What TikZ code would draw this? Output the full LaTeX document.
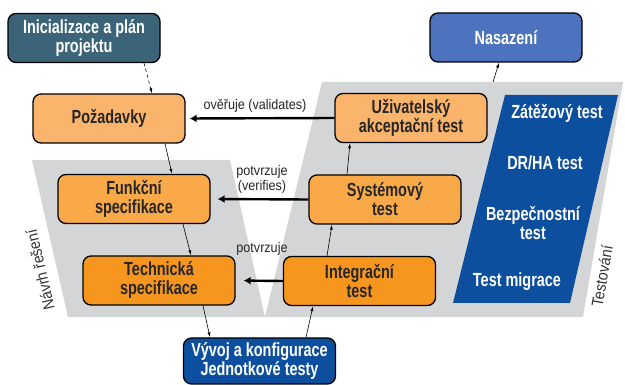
\documentclass[tikz,border=0pt]{standalone}
\usepackage{fontspec}
\setmainfont{Liberation Sans}
\newfontfamily\condfont[FakeStretch=0.76]{Liberation Sans}
\newfontfamily\narrowfont[FakeStretch=0.9]{Liberation Sans}
\usetikzlibrary{arrows.meta}

\definecolor{initcol}{HTML}{3B6478}
\definecolor{lightorange}{HTML}{FBB46C}
\definecolor{midorange}{HTML}{F9A948}
\definecolor{deeporange}{HTML}{F7961E}
\definecolor{nascol}{HTML}{4D73BF}
\definecolor{darkblue}{HTML}{0D4F9F}
\definecolor{vgray}{HTML}{D4D5D7}

\tikzset{
	phase/.style={draw=black, line width=1.3pt, rounded corners=8pt,
		minimum width=152pt, minimum height=49pt, align=center, inner sep=2pt,
		font=\condfont\bfseries\fontsize{19}{19}\selectfont, text=black!85},
	thin arrow/.style={line width=0.6pt, -{Latex[length=5pt,width=3pt]}},
	thick arrow/.style={line width=2.4pt, -{Latex[length=7pt,width=8pt]}},
	arrow label/.style={font=\narrowfont\fontsize{14}{15}\selectfont, align=center, text=black!85},
	test item/.style={font=\condfont\bfseries\fontsize{19}{19}\selectfont, text=white, align=center},
	side label/.style={font=\narrowfont\fontsize{16}{18}\selectfont, text=black!80}
}

\begin{document}
\begin{tikzpicture}[x=1pt,y=-1pt]
	\useasboundingbox (0,0) rectangle (625,385);
	% Pozadi V
	\fill [vgray] (32,160) -- (230,160) -- (265,317) -- (68,317) -- cycle;
	\fill [vgray] (322,82) -- (623,82) -- (583,317) -- (265,317) -- cycle;
	% Testy
	\fill [darkblue] (505,95) -- (618,95) -- (570,303) -- (453,303) -- cycle;
	\node [test item] (zat) at (557,113) {Zátěžový test};
	\node [test item] (drha) at (545,163) {DR/HA test};
	\node [test item] (bezp) at (533,223) {Bezpečnostní\\test};
	\node [test item] (migr) at (517,282) {Test migrace};
	
	% Levá větev
	\node [phase, fill=initcol, text=white] (init) at (84,38) {Inicializace a plán\\projektu};
	\node [phase, fill=lightorange] (poz) at (109,118.5) {Požadavky};
	\node [phase, fill=midorange] (funk) at (134,199) {Funkční\\specifikace};
	\node [phase, fill=deeporange] (tech) at (159,280.5) {Technická\\specifikace};
	% Vyvoj
	\node [phase, fill=darkblue, text=white, minimum height=46pt] (vyvoj) at (259.5,361) {Vývoj a konfigurace\\Jednotkové testy};
	% Pravá větev
	\node [phase, fill=deeporange] (integ) at (359.5,281) {Integrační\\test};
	\node [phase, fill=midorange] (sys) at (385,199.5) {Systémový\\test};
	\node [phase, fill=lightorange] (uziv) at (411,118) {Uživatelský\\akceptační test};
	\node [phase, fill=nascol, text=white] (nas) at (506,37.5) {Nasazení};
	\coordinate (vtop) at (493,82);
	
	% Popisky stran
	\node [side label, rotate=103] (navrh) at (40,270) {Návrh řešení};
	\node [side label, rotate=80] (testov) at (602,276) {Testování};
	
	% Tenke sipky
	\draw [thin arrow, dashed] ([xshift=60pt]init.south) -- ([xshift=43pt]poz.north);
	\draw [thin arrow] ([xshift=56pt]poz.south) -- ([xshift=38pt]funk.north);
	\draw [thin arrow] ([xshift=49pt]funk.south) -- ([xshift=32pt]tech.north);
	\draw [thin arrow] ([xshift=44pt]tech.south) -- ([xshift=-49.5pt]vyvoj.north);
	\draw [thin arrow] ([xshift=46.5pt]vyvoj.north) -- ([xshift=-46.5pt]integ.south);
	\draw [thin arrow] ([xshift=-32.5pt]integ.north) -- ([xshift=-53pt]sys.south);
	\draw [thin arrow] ([xshift=-38pt]sys.north) -- ([xshift=-61pt]uziv.south);
	\draw [thin arrow] (vtop) -- ([xshift=-7pt]nas.south);
	
	% Tlusté sipky
	\draw [thick arrow, shorten >=4pt] (uziv.west) -- (poz.east);
	\draw [thick arrow, shorten >=7pt] (sys.west) -- (funk.east);
	\draw [thick arrow, shorten >=8pt] (integ.west) -- (tech.east);
	\node [arrow label] (val) at (255,106) {ověřuje (validates)};
	\node [arrow label] (ver) at (262,179) {potvrzuje\\(verifies)};
	\node [arrow label] (pot) at (262,249) {potvrzuje};
\end{tikzpicture}
\end{document}
